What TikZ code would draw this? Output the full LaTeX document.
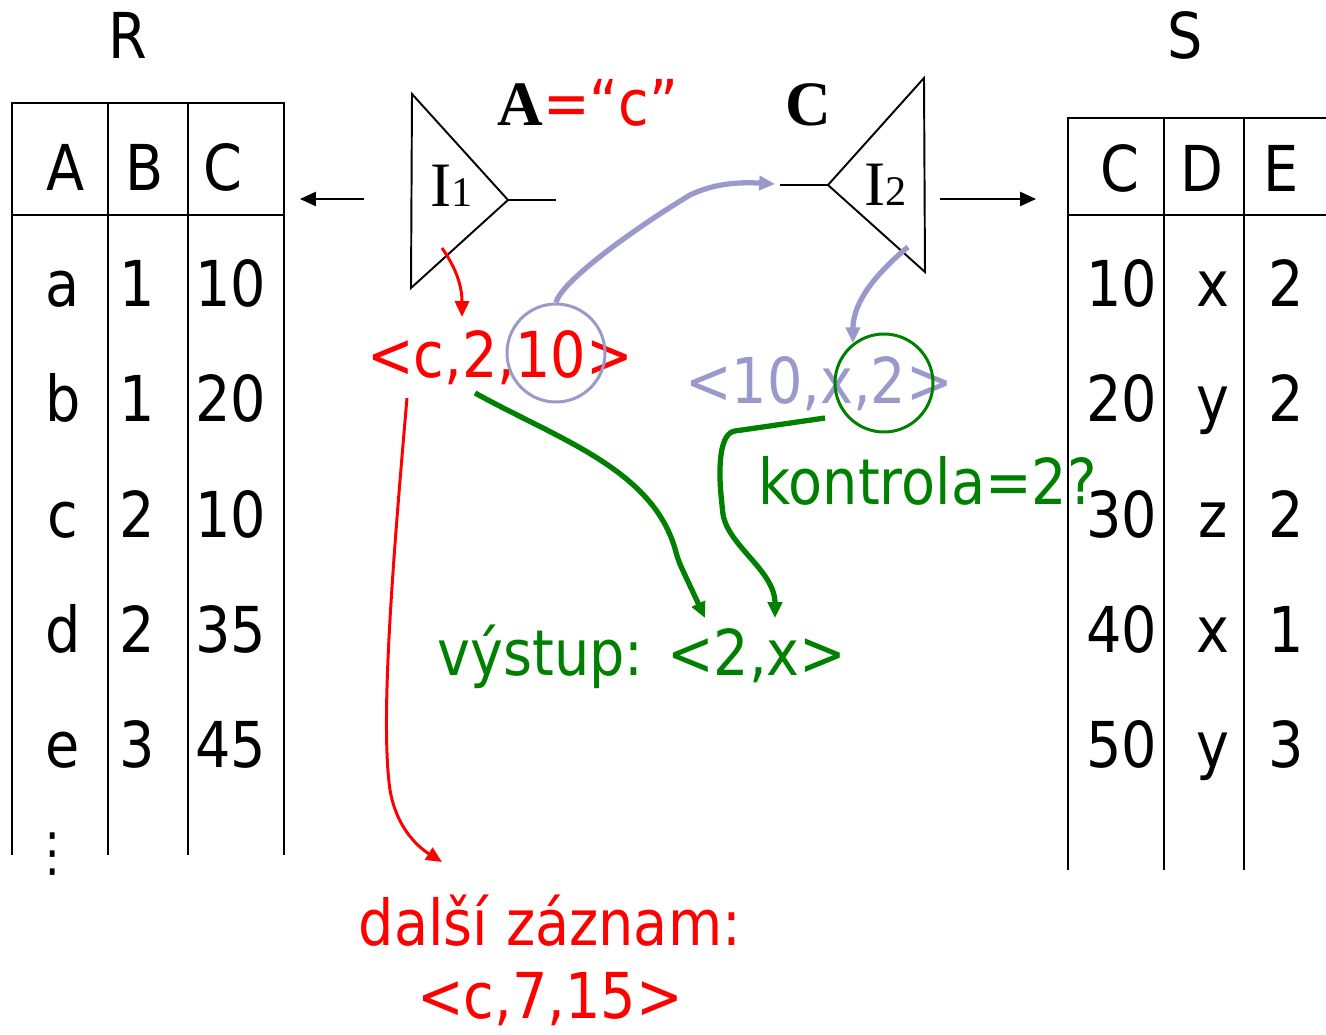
\documentclass[tikz,border=0pt]{standalone}
\usepackage{fontspec}
\setmainfont[FakeStretch=0.88]{DejaVu Sans}
\newfontfamily\timesfont{Liberation Serif}
\usepackage{tikz}
\newcommand{\bigfont}{\fontsize{36}{43}\selectfont}
\newcommand{\subfont}{\fontsize{24}{28}\selectfont}
\definecolor{myRed}{RGB}{255,0,0}
\definecolor{myGreen}{RGB}{0,128,0}
\definecolor{myLilac}{RGB}{153,153,204}
\usetikzlibrary{arrows.meta,calc,positioning}
\tikzset{
  >=stealth,
  font=\bigfont,
  cell/.style={anchor=base,inner sep=0},
  grid/.style={draw,line width=1.1pt},
  index/.style={draw,line width=1.1pt,line join=miter},
  ring/.style={draw=#1,shape=circle,line width=1.7pt,minimum size=19.6mm,inner sep=0},
  tip/.style={-{Triangle[length=9pt,width=8pt]}},
  black line/.style={draw,line width=1.1pt,tip},
  red line/.style={draw=myRed,line width=1.7pt,tip},
  green line/.style={draw=myGreen,line width=3pt,rounded corners,tip},
  lilac line/.style={draw=myLilac,line width=3pt,tip},
  dots/.style={inner sep=0,font=\fontsize{30}{36}\selectfont},
}
\begin{document}
\begin{tikzpicture}[x=0.2mm,y=-0.2mm]
  \useasboundingbox (0,0) rectangle (1326,1035);
  % relation R
  \node[cell] (R) at (128,59) {R};
  \draw[grid] (12,855) -- (12,103) -- (284,103) -- (284,855);
  \draw[grid] (12,215) -- (284,215);
  \draw[grid] (108,103) -- (108,855);
  \draw[grid] (188,103) -- (188,855);
  \foreach \t/\x in {A/66,B/145,C/223}
    \node[cell] (R\t) at (\x,191) {\t};
  \foreach \a/\b/\c [count=\i] in {a/1/10,b/1/20,c/2/10,d/2/35,e/3/45} {
    \node[cell] (ra\i) at (63,{192+115*\i}) {\a};
    \node[cell] (rb\i) at (137,{192+115*\i}) {\b};
    \node[cell] (rc\i) at (231,{192+115*\i}) {\c};
  }
  \node[dots] (more) at (53,854) {⋮};
  % relation S
  \node[cell] (S) at (1185,59) {S};
  \draw[grid] (1068,870) -- (1068,118) -- (1326,118);
  \draw[grid] (1068,215) -- (1326,215);
  \draw[grid] (1164,118) -- (1164,870);
  \draw[grid] (1244,118) -- (1244,870);
  \foreach \t/\x in {C/1120,D/1202,E/1281}
    \node[cell] (S\t) at (\x,192) {\t};
  \foreach \c/\d/\e [count=\i] in {10/x/2,20/y/2,30/z/2,40/x/1,50/y/3} {
    \node[cell] (sc\i) at (1122,{192+115*\i}) {\c};
    \node[cell] (sd\i) at (1213,{192+115*\i}) {\d};
    \node[cell] (se\i) at (1286,{192+115*\i}) {\e};
  }
  % index I1 on A
  \draw[index] (412,94) -- (411,288) -- (508,200) -- cycle;
  \node[cell,font=\timesfont\bigfont] (I1) at (452,207) {I{\subfont 1}};
  \node[anchor=base west,inner sep=0] (keyA) at (497,126)
    {{\timesfont\bfseries A}\textcolor{myRed}{=“c”}};
  \coordinate (i1apex) at (508,200);
  \coordinate (i1end) at (556,200);
  \coordinate (i1from) at (364,199);
  \coordinate (i1to) at (300,199);
  \draw[grid] (i1apex) -- (i1end);
  \draw[black line] (i1from) -- (i1to);
  % index I2 on C
  \draw[index] (924,78) -- (828,185) -- (925,272) -- cycle;
  \node[cell,font=\timesfont\bigfont] (I2) at (886,206) {I{\subfont 2}};
  \node[anchor=base west,inner sep=0,font=\timesfont\bfseries\bigfont] (keyC) at (785,126) {C};
  \coordinate (i2apex) at (828,185);
  \coordinate (i2end) at (780,185);
  \coordinate (i2from) at (940,199);
  \coordinate (i2to) at (1036,199);
  \draw[grid] (i2apex) -- (i2end);
  \draw[black line] (i2from) -- (i2to);
  % records
  \node[cell,text=myRed] (recR) at (500,377) {<c,2,10>};
  \node[cell,text=myLilac] (recS) at (819,403) {<10,x,2>};
  \node[ring=myLilac] (hitR) at (556,353) {};
  \node[ring=myGreen] (hitS) at (884,383) {};
  \node[anchor=base west,inner sep=0,text=myGreen] (check) at (758,505) {kontrola=2?};
  \node[cell,text=myGreen] (result) at (642,675) {výstup: <2,x>};
  \node[cell,text=myRed] (next) at (550,945) {další záznam:};
  \node[cell,text=myRed] (nextrec) at (550,1018) {<c,7,15>};
  % arrows
  \coordinate (i1leaf) at (442,248);
  \coordinate (recRtop) at (462,317);
  \coordinate (i2leaf) at (908,247);
  \coordinate (i2in) at (775,184);
  \coordinate (recRfoot) at (407,398);
  \coordinate (nexttop) at (442,862);
  \coordinate (recRout) at (475,393);
  \coordinate (resleft) at (705,618);
  \coordinate (recSout) at (825,418);
  \coordinate (resright) at (775,618);
  \draw[red line] (i1leaf) to[out=-55,in=90] (recRtop);
  \draw[red line] (recRfoot) .. controls (393,560) and (380,720) .. (390,790)
    .. controls (396,825) and (415,845) .. (nexttop);
  \draw[lilac line] (hitR.north) .. controls (562,280) and (640,225) .. (690,195)
    .. controls (715,183) and (740,182) .. (i2in);
  \draw[lilac line] (i2leaf) .. controls (880,270) and (853,300) .. (hitS.128);
  \draw[green line] (recRout) .. controls (560,440) and (655,470) .. (678,560) -- (resleft);
  \draw[green line] (recSout) -- (742,430) .. controls (720,433) and (718,465) .. (722,505)
    .. controls (726,545) and (775,570) .. (resright);
\end{tikzpicture}
\end{document}
